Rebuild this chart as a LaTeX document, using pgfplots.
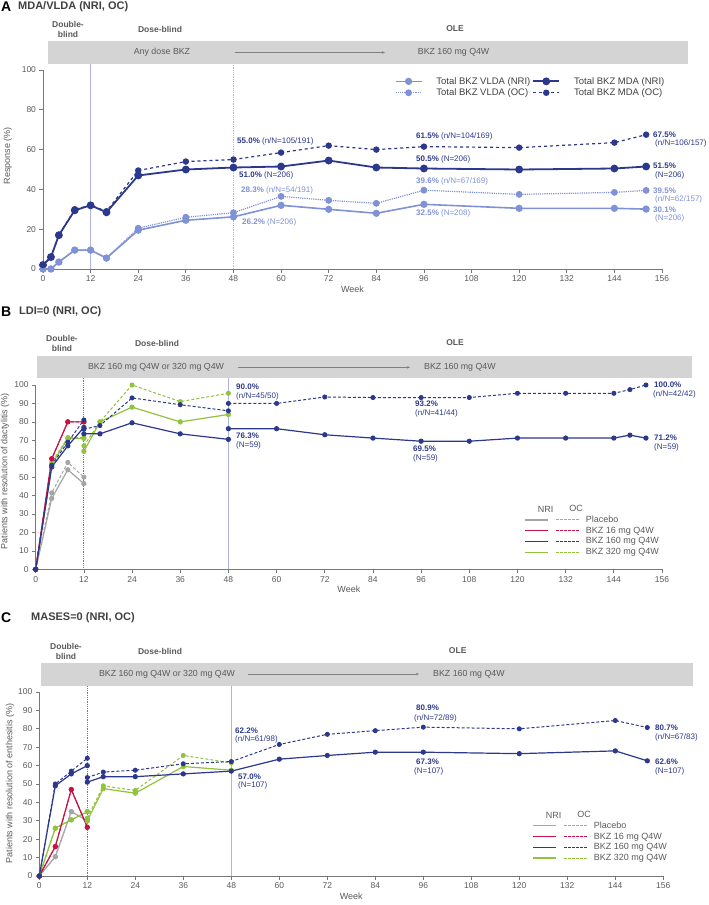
\documentclass[border=0pt]{standalone}
\usepackage{pgfplots}
\pgfplotsset{compat=1.18}
\usepackage{fontspec}
\setmainfont{Liberation Sans}
\usetikzlibrary{arrows.meta}

\definecolor{navy}{RGB}{44,56,140}
\definecolor{lite}{RGB}{128,146,214}
\definecolor{bkred}{RGB}{200,18,68}
\definecolor{bkgreen}{RGB}{146,194,62}
\definecolor{plgray}{RGB}{165,165,165}
\definecolor{band}{RGB}{212,212,212}
\definecolor{axgray}{RGB}{120,120,120}
\definecolor{txgray}{RGB}{90,90,90}
\definecolor{vline}{RGB}{175,180,222}
\definecolor{vdot}{RGB}{105,115,190}

\pgfplotsset{
  panel/.style={
    scale only axis, axis lines=left,
    axis line style={-, draw=axgray, line width=0.9pt},
    xmin=0, xmax=156, ymin=0, ymax=100, xtick={0,12,...,156},
    tick style={draw=axgray, line width=0.7pt}, major tick length=3.5pt, tick align=outside,
    ticklabel style={font=\fontsize{8.5}{10}\selectfont, text=txgray},
    /pgf/number format/assume math mode=true,
    xlabel=Week, xlabel style={font=\fontsize{9}{10}\selectfont, text=txgray, yshift=3pt},
    ylabel style={font=\fontsize{9}{10}\selectfont, text=txgray},
    clip=false, unbounded coords=jump,
  },
  nri/.style={solid, line width=1.2pt, mark=*, mark size=2pt},
  oc/.style={dash pattern=on 3pt off 2pt, line width=1pt, mark=*, mark size=2pt, mark options={solid}},
  twoleg/.style={
    legend style={anchor=north west, draw=none, fill=none, inner sep=0pt, row sep=-1pt,
      font=\fontsize{9}{10}\selectfont, text=txgray},
    legend cell align=left,
  },
}

% legend sample: NRI line, then OC line
\newcommand{\legpair}[1]{\addlegendimage{color=#1, legend image code/.code={
  \draw[draw=#1, line width=1.4pt] (0pt,0pt) -- (23pt,0pt);
  \draw[draw=#1, line width=0.9pt, dash pattern=on 2.5pt off 1.5pt] (31pt,0pt) -- (55pt,0pt);}}}
\newcommand{\leghead}{\addlegendimage{legend image code/.code={
  \node[inner sep=1pt, font=\fontsize{9}{10}\selectfont, text=txgray] at (11.5pt,-1pt) {NRI};
  \node[inner sep=1pt, font=\fontsize{9}{10}\selectfont, text=txgray] at (43pt,0pt) {OC};}}
  \addlegendentry{}}

\begin{document}
\begin{tikzpicture}
\path[use as bounding box] (0pt,0pt) rectangle (709pt,-905pt);

% ---------- A ----------
\begin{axis}[panel, at={(43pt,-269pt)}, anchor=south west, width=619pt, height=199pt,
  ytick={0,20,...,100}, ylabel={Response (\%)},
  ylabel style={at={(axis description cs:-0.057,0.57)}, anchor=center},
  legend columns=2,
  legend style={at={(axis description cs:0.568,0.975)}, anchor=north west, draw=none, fill=none,
    inner sep=0pt, row sep=-1pt, font=\fontsize{9.5}{10}\selectfont, text=black!75,
    /tikz/every odd column/.append style={column sep=12pt}},
  legend cell align=left,
  legend image code/.code={\draw[mark repeat=2,mark phase=2,#1] plot coordinates {(0pt,0pt) (13pt,0pt) (26pt,0pt)};},
]
\draw[vline, line width=0.8pt] (axis cs:12,0) -- (axis cs:12,103);
\draw[vline, line width=0.8pt, densely dotted] (axis cs:48,0) -- (axis cs:48,103);
\addplot[color=lite, line width=1.6pt, mark=*, mark size=2.8pt] coordinates {
 (0,0) (2,0) (4,3.5) (8,9.5) (12,9.5) (16,5.5) (24,19.5) (36,24.5) (48,26.2) (60,32) (72,30) (84,28) (96,32.5) (120,30.5) (144,30.5) (152,30.1)};
\addlegendentry{Total BKZ VLDA (NRI)}
\addplot[color=navy, line width=1.8pt, mark=*, mark size=3pt] coordinates {
 (0,2) (2,6) (4,17) (8,29.5) (12,32) (16,28.5) (24,47) (36,50) (48,51) (60,51.5) (72,54.5) (84,51) (96,50.5) (120,50) (144,50.5) (152,51.5)};
\addlegendentry{Total BKZ MDA (NRI)}
\addplot[color=lite, densely dotted, line width=1.2pt, mark=*, mark size=2.8pt, mark options={solid}] coordinates {
 (0,0) (2,0) (4,3.5) (8,9.5) (12,9.5) (16,5.5) (24,20.5) (36,26) (48,28.3) (60,36.5) (72,34.5) (84,33) (96,39.6) (120,37.5) (144,38.5) (152,39.5)};
\addlegendentry{Total BKZ VLDA (OC)}
\addplot[color=navy, dashed, line width=1.2pt, mark=*, mark size=2.6pt, mark options={solid}] coordinates {
 (0,2) (2,6) (4,17) (8,30) (12,32) (16,29) (24,49.5) (36,54) (48,55) (60,58.5) (72,62) (84,60) (96,61.5) (120,61) (144,63.5) (152,67.5)};
\addlegendentry{Total BKZ MDA (OC)}
\end{axis}

% ---------- B ----------
\begin{axis}[panel, twoleg, at={(35.7pt,-569.3pt)}, anchor=south west, width=626.3pt, height=184.3pt,
  ytick={0,10,...,100}, ylabel={Patients with resolution of dactylitis (\%)},
  ylabel style={at={(axis description cs:-0.049,0.533)}, anchor=center},
  legend style={at={(axis description cs:0.78,0.355)}},
]
\draw[vdot, line width=0.8pt, densely dotted] (axis cs:12,0) -- (axis cs:12,103.6);
\draw[vline, line width=0.8pt] (axis cs:48,0) -- (axis cs:48,103.6);
\addplot[plgray, nri, forget plot] coordinates {(0,0) (4,38.5) (8,54) (12,46.5)};
\addplot[plgray, oc, forget plot] coordinates {(0,0) (4,41.5) (8,58) (12,50)};
\addplot[bkgreen, nri, forget plot] coordinates {(0,0) (4,57) (8,71) (12,71) (12,nan) (12,64) (16,80) (24,88) (36,80) (48,84)};
\addplot[bkgreen, oc, forget plot] coordinates {(0,0) (4,58) (8,71.5) (12,71.5) (12,nan) (12,67) (16,80) (24,100) (36,91) (48,95.5)};
\addplot[bkred, nri, forget plot] coordinates {(0,0) (4,60) (8,80) (12,80)};
\addplot[bkred, oc, forget plot] coordinates {(0,0) (4,60) (8,80) (12,80)};
\addplot[navy, nri, forget plot] coordinates {(0,0) (4,55.5) (8,67) (12,77) (12,nan)
 (12,73.5) (16,73.5) (24,79.5) (36,73.5) (48,70.5) (48,nan)
 (48,76.3) (60,76.3) (72,73) (84,71.2) (96,69.5) (108,69.5) (120,71.2) (132,71.2) (144,71.2) (148,72.8) (152,71.2)};
\addplot[navy, oc, forget plot] coordinates {(0,0) (4,56.5) (8,69) (12,81) (12,nan)
 (12,76) (16,78) (24,93) (36,89.3) (48,86) (48,nan)
 (48,90) (60,90) (72,93.5) (84,93.2) (96,93.2) (108,93.2) (120,95.5) (132,95.5) (144,95.5) (148,97.5) (152,100)};
\leghead
\legpair{plgray}\addlegendentry{Placebo}
\legpair{bkred}\addlegendentry{BKZ 16 mg Q4W}
\legpair{navy}\addlegendentry{BKZ 160 mg Q4W}
\legpair{bkgreen}\addlegendentry{BKZ 320 mg Q4W}
\end{axis}

% ---------- C ----------
\begin{axis}[panel, twoleg, at={(39.3pt,-876pt)}, anchor=south west, width=624pt, height=184pt,
  ytick={0,10,...,100}, ylabel={Patients with resolution of enthesitis (\%)},
  ylabel style={at={(axis description cs:-0.047,0.504)}, anchor=center},
  legend style={at={(axis description cs:0.79,0.36)}},
]
\draw[vdot, line width=0.8pt, densely dotted] (axis cs:12,0) -- (axis cs:12,103.4);
\draw[vline, line width=0.8pt] (axis cs:48,0) -- (axis cs:48,103.4);
\addplot[plgray, nri, forget plot] coordinates {(0,0) (4,10.5) (8,35) (12,30)};
\addplot[plgray, oc, forget plot] coordinates {(0,0) (4,10.5) (8,35) (12,30)};
\addplot[bkgreen, nri, forget plot] coordinates {(0,0) (4,26) (8,30.5) (12,35) (12,nan) (12,30) (16,47.5) (24,45) (36,59.5) (48,57.5)};
\addplot[bkgreen, oc, forget plot] coordinates {(0,0) (4,26) (8,30.5) (12,35) (12,nan) (12,31.5) (16,49) (24,46.5) (36,65.5) (48,61.5)};
\addplot[bkred, nri, forget plot] coordinates {(0,0) (4,16) (8,47) (12,26.5)};
\addplot[bkred, oc, forget plot] coordinates {(0,0) (4,16) (8,47) (12,26.5)};
\addplot[navy, nri, forget plot] coordinates {(0,0) (4,49) (8,55.5) (12,60) (12,nan)
 (12,51) (16,54) (24,54) (36,55.5) (48,57) (60,63.5) (72,65.5) (84,67.3) (96,67.3) (120,66.5) (144,68) (152,62.6)};
\addplot[navy, oc, forget plot] coordinates {(0,0) (4,50) (8,57) (12,64) (12,nan)
 (12,53.5) (16,56.5) (24,57.5) (36,61) (48,62.2) (60,71.5) (72,77) (84,79) (96,80.9) (120,80) (144,84.5) (152,80.7)};
\leghead
\legpair{plgray}\addlegendentry{Placebo}
\legpair{bkred}\addlegendentry{BKZ 16 mg Q4W}
\legpair{navy}\addlegendentry{BKZ 160 mg Q4W}
\legpair{bkgreen}\addlegendentry{BKZ 320 mg Q4W}
\end{axis}

% ---------- titles, phase bands, value labels ----------
\begin{scope}[x=1pt, y=-1pt]
\tikzset{ph/.style={font=\bfseries\fontsize{8.5}{10}\selectfont, text=txgray, align=center},
  bt/.style={font=\fontsize{8.8}{10}\selectfont, text=txgray},
  ann/.style={anchor=west, inner sep=0pt, font=\fontsize{8}{9}\selectfont},
  arr/.style={draw=gray, line width=0.6pt, -{Stealth[length=3pt,width=2.5pt]}}}
% titles
\node[anchor=west, inner sep=0pt, font=\bfseries\fontsize{14}{15}\selectfont] at (1,7) {A};
\node[anchor=west, inner sep=0pt, font=\bfseries\fontsize{11}{12}\selectfont, text=black!75] at (18,7) {MDA/VLDA (NRI, OC)};
\node[anchor=west, inner sep=0pt, font=\bfseries\fontsize{14}{15}\selectfont] at (1,312) {B};
\node[anchor=west, inner sep=0pt, font=\bfseries\fontsize{11}{12}\selectfont, text=black!75] at (19,312) {LDI=0 (NRI, OC)};
\node[anchor=west, inner sep=0pt, font=\bfseries\fontsize{14}{15}\selectfont] at (1,618) {C};
\node[anchor=west, inner sep=0pt, font=\bfseries\fontsize{11}{12}\selectfont, text=black!75] at (31,618) {MASES=0 (NRI, OC)};
% A bands
\fill[band] (48,41) rectangle (688,64);
\node[ph] at (68,29.5) {Double-\\blind};
\node[ph] at (160,29) {Dose-blind};
\node[ph] at (455,29) {OLE};
\node[bt] at (162,52.5) {Any dose BKZ};
\draw[arr] (235,52.5) -- (385,52.5);
\node[bt, anchor=west, inner sep=0pt] at (417.7,52.5) {BKZ 160 mg Q4W};
% B bands
\fill[band] (37,356) rectangle (692,378.3);
\node[ph] at (62,343.5) {Double-\\blind};
\node[ph] at (157,343) {Dose-blind};
\node[ph] at (455,343) {OLE};
\node[bt] at (156,367.5) {BKZ 160 mg Q4W or 320 mg Q4W};
\draw[arr] (238,367.3) -- (410,367.3);
\node[bt, anchor=west, inner sep=0pt] at (424,367.5) {BKZ 160 mg Q4W};
% C bands
\fill[band] (41,663) rectangle (693,685.7);
\node[ph] at (66,651) {Double-\\blind};
\node[ph] at (160,651) {Dose-blind};
\node[ph] at (457.7,651) {OLE};
\node[bt] at (167,674) {BKZ 160 mg Q4W or 320 mg Q4W};
\draw[arr] (248,674) -- (419,674);
\node[bt, anchor=west, inner sep=0pt] at (433,674) {BKZ 160 mg Q4W};
% A labels
\node[ann, text=navy] at (237,141) {\textbf{55.0\%} (n/N=105/191)};
\node[ann, text=navy] at (239,175) {\textbf{51.0\%} (N=206)};
\node[ann, text=lite] at (241,190) {\textbf{28.3\%} (n/N=54/191)};
\node[ann, text=lite] at (242,222) {\textbf{26.2\%} (N=206)};
\node[ann, text=navy] at (416,136) {\textbf{61.5\%} (n/N=104/169)};
\node[ann, text=navy] at (416,159) {\textbf{50.5\%} (N=206)};
\node[ann, text=lite] at (416,181) {\textbf{39.6\%} (n/N=67/169)};
\node[ann, text=lite] at (416,213) {\textbf{32.5\%} (N=208)};
\node[ann, text=navy] at (653,135) {\textbf{67.5\%}};
\node[ann, text=navy] at (655,143) {(n/N=106/157)};
\node[ann, text=navy] at (653,166) {\textbf{51.5\%}};
\node[ann, text=navy] at (655,175) {(N=206)};
\node[ann, text=lite] at (653,191) {\textbf{39.5\%}};
\node[ann, text=lite] at (655,199) {(n/N=62/157)};
\node[ann, text=lite] at (653,210) {\textbf{30.1\%}};
\node[ann, text=lite] at (655,218) {(N=206)};
% B labels
\node[ann, text=navy] at (236,387) {\textbf{90.0\%}};
\node[ann, text=navy] at (236,396) {(n/N=45/50)};
\node[ann, text=navy] at (236,436) {\textbf{76.3\%}};
\node[ann, text=navy] at (236,445) {(N=59)};
\node[ann, text=navy] at (415,404) {\textbf{93.2\%}};
\node[ann, text=navy] at (415,413) {(n/N=41/44)};
\node[ann, text=navy] at (413,449) {\textbf{69.5\%}};
\node[ann, text=navy] at (413,458) {(N=59)};
\node[ann, text=navy] at (654,385) {\textbf{100.0\%}};
\node[ann, text=navy] at (653,394) {(n/N=42/42)};
\node[ann, text=navy] at (654,438) {\textbf{71.2\%}};
\node[ann, text=navy] at (654,447) {(N=59)};
% C labels
\node[ann, text=navy] at (235,731) {\textbf{62.2\%}};
\node[ann, text=navy] at (235,739) {(n/N=61/98)};
\node[ann, text=navy] at (238,777) {\textbf{57.0\%}};
\node[ann, text=navy] at (238,785) {(N=107)};
\node[ann, text=navy] at (416,708) {\textbf{80.9\%}};
\node[ann, text=navy] at (414,718) {(n/N=72/89)};
\node[ann, text=navy] at (416,762) {\textbf{67.3\%}};
\node[ann, text=navy] at (414,771) {(N=107)};
\node[ann, text=navy] at (655,728) {\textbf{80.7\%}};
\node[ann, text=navy] at (655,737) {(n/N=67/83)};
\node[ann, text=navy] at (655,762) {\textbf{62.6\%}};
\node[ann, text=navy] at (655,771) {(N=107)};
\end{scope}
\end{tikzpicture}
\end{document}
